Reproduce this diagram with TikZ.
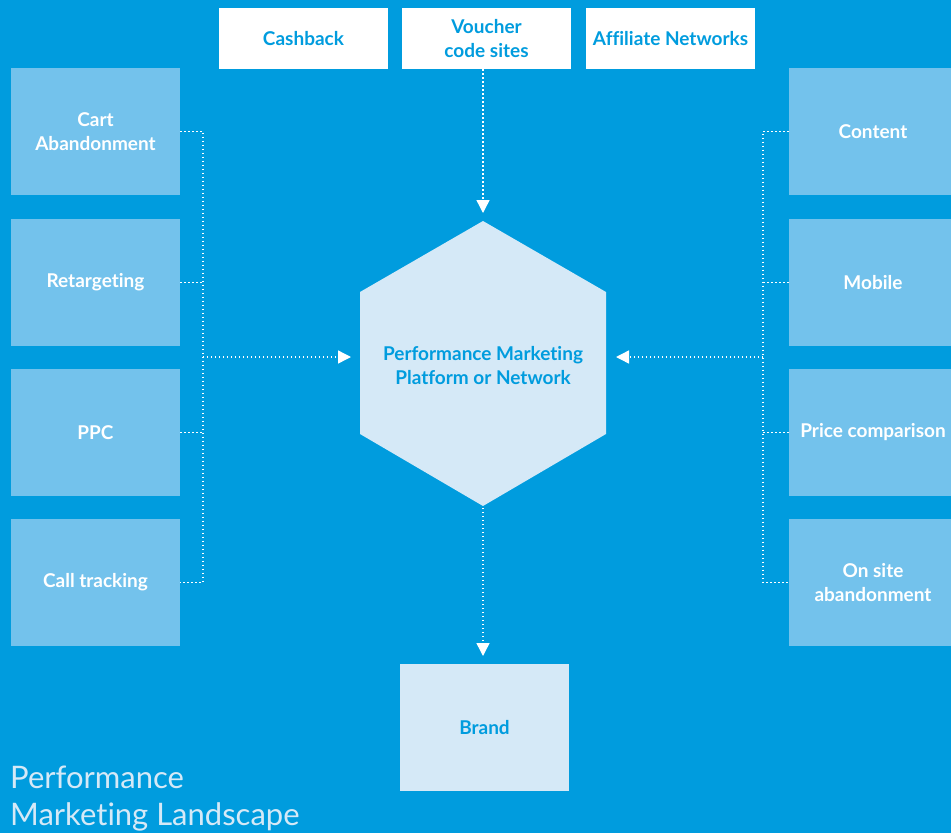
\documentclass[tikz,border=0pt]{standalone}
\usepackage{fontspec}
\setmainfont{Lato}[Ligatures=NoCommon]
\usetikzlibrary{arrows.meta}
\definecolor{bgblue}{HTML}{009CDE}
\definecolor{sideblue}{HTML}{73C2EC}
\definecolor{paleblue}{HTML}{D5E9F7}
\tikzset{
  box/.style={rectangle, inner sep=0pt, align=center, font=\bfseries\fontsize{19}{24}\selectfont},
  sidebox/.style={box, fill=sideblue, text=white, minimum width=169pt, minimum height=127pt},
  rsidebox/.style={box, fill=sideblue, text=white, minimum width=168pt, minimum height=127pt},
  topbox/.style={box, fill=white, text=bgblue, minimum width=169pt, minimum height=61pt},
  conn/.style={white, line width=1.4pt, dash pattern=on 1.4pt off 2.6pt},
  arr/.style={conn, -{Triangle[width=13pt,length=13pt]}, shorten >=0pt},
}
\begin{document}
\begin{tikzpicture}[x=1pt,y=-1pt]
\fill[bgblue] (0,0) rectangle (951,833);
\useasboundingbox (0,0) rectangle (951,833);
% top boxes
\node[topbox] (cash) at (303.5,38.5) {Cashback};
\node[topbox] (vouch) at (486.5,38.5) {Voucher\\code sites};
\node[topbox] (aff) at (670.5,38.5) {Affiliate Networks};
% left boxes
\node[sidebox] (cart) at (95.5,131.5) {Cart\\Abandonment};
\node[sidebox] (ret) at (95.5,282.5) {Retargeting};
\node[sidebox] (ppc) at (95.5,432.5) {PPC};
\node[sidebox] (call) at (95.5,582.5) {Call tracking};
% right boxes
\node[rsidebox] (cont) at (873,131.5) {Content};
\node[rsidebox] (mob) at (873,282.5) {Mobile};
\node[rsidebox] (price) at (873,432.5) {Price comparison};
\node[rsidebox] (onsite) at (873,582.5) {On site\\abandonment};
% hexagon
\fill[paleblue] (483,221) -- (606,292) -- (606,434) -- (483,506) -- (360,434) -- (360,292) -- cycle;
\node[box, text=bgblue] (hex) at (483,366) {Performance Marketing\\Platform or Network};
% brand
\node[box, fill=paleblue, text=bgblue, minimum width=169pt, minimum height=127pt] (brand) at (484.5,727.5) {Brand};
% coordinates
\coordinate (lbus) at (203,357);
\coordinate (rbus) at (763,357);
\coordinate (hexL) at (351,357);
\coordinate (hexR) at (616,357);
\coordinate (hexT) at (483,213);
\coordinate (hexB) at (483,508);
\coordinate (brandT) at (483,656);
% left connectors
\draw[conn] (cart.east) -| (call.east -| lbus) -- (call.east);
\draw[conn] (ret.east) -- (ret.east -| lbus);
\draw[conn] (ppc.east) -- (ppc.east -| lbus);
\draw[arr] (lbus) -- (hexL);
% right connectors
\draw[conn] (cont.west) -| (onsite.west -| rbus) -- (onsite.west);
\draw[conn] (mob.west) -- (mob.west -| rbus);
\draw[conn] (price.west) -- (price.west -| rbus);
\draw[arr] (rbus) -- (hexR);
% top and bottom
\draw[arr] (vouch.south -| hexT) -- (hexT);
\draw[arr] (hexB) -- (brandT);
% title
\node[anchor=north west, align=left, inner sep=0pt, text=paleblue, font=\fontsize{31}{37}\selectfont] (title) at (10,766) {Performance\\Marketing Landscape};
\end{tikzpicture}
\end{document}
